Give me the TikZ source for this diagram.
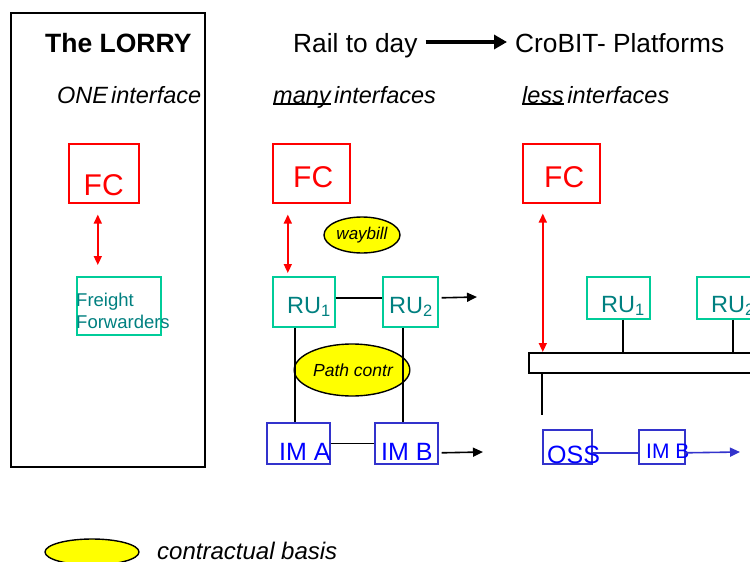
\documentclass[tikz,border=0pt]{standalone}
\usepackage{fontspec}
\setmainfont{Liberation Sans}
\usetikzlibrary{shapes.geometric,arrows.meta}
\definecolor{fcred}{RGB}{255,0,0}
\definecolor{ruline}{RGB}{0,204,153}
\definecolor{rutext}{RGB}{0,128,128}
\definecolor{imline}{RGB}{51,51,204}
\definecolor{imtext}{RGB}{0,0,255}
\definecolor{contr}{RGB}{255,255,0}
\tikzset{
  fcbox/.style={draw=fcred, line width=1.6pt, inner sep=0pt, anchor=north west},
  rubox/.style={draw=ruline, line width=1.6pt, inner sep=0pt, anchor=north west},
  imbox/.style={draw=imline, line width=1.6pt, inner sep=0pt, anchor=north west},
  blkbox/.style={draw=black, line width=1.7pt, inner sep=0pt, anchor=north west},
  lab/.style={anchor=base west, inner sep=0pt},
  fctext/.style={lab, text=fcred, font=\fontsize{30}{30}\selectfont},
  rutxt/.style={lab, text=rutext, font=\fontsize{23.5}{23.5}\selectfont},
  imtxt/.style={lab, text=imtext, font=\fontsize{25}{25}\selectfont},
  ital/.style={lab, font=\fontsize{23.5}{24}\itshape},
  contract/.style={ellipse, draw=black, fill=contr, line width=1.4pt, inner sep=0pt},
  redarr/.style={draw=fcred, line width=1.6pt, {Triangle[length=9pt,width=8pt]}-{Triangle[length=9pt,width=8pt]}},
  conn/.style={draw=black, line width=1.6pt},
  blkarr/.style={draw=black, line width=1.6pt, -{Triangle[length=10pt,width=9pt]}},
  bluearr/.style={draw=imline, line width=1.6pt, -{Triangle[length=10pt,width=9pt]}},
}
\begin{document}
\begin{tikzpicture}[x=1pt,y=-1pt]
\clip (0,0) rectangle (750,562);
\fill[white] (0,0) rectangle (750,562);

% left frame
\node[blkbox, minimum width=194pt, minimum height=454pt] (frame) at (10,12) {};
\node[lab, font=\fontsize{26.5}{26.5}\bfseries\selectfont] (lorry) at (45,52) {The LORRY};
\node[ital] (one) at (57,103) {ONE\hspace{3pt}interface};

% title
\node[lab, font=\fontsize{26.3}{26.3}\selectfont] (rail) at (293,52) {Rail to day};
\node[lab, font=\fontsize{26.3}{26.3}\selectfont] (crobit) at (515,52) {CroBIT- Platforms};
\draw[line width=3.8pt, -{Triangle[length=13pt,width=14pt]}] ([xshift=8pt,yshift=10pt]rail.base east) -- ([xshift=-8pt,yshift=10pt]crobit.base west);

\node[ital] (many) at (273,103) {many};
\node[ital] (manyi) at ([xshift=3pt]many.base east) {interfaces};
\draw[line width=1.8pt] ([yshift=-1pt]many.base west) -- ([yshift=-1pt]many.base east);
\node[ital] (less) at (522,103) {less};
\node[ital] (lessi) at ([xshift=3pt]less.base east) {interfaces};
\draw[line width=1.8pt] ([yshift=-1pt]less.base west) -- ([yshift=-1pt]less.base east);

% left column
\node[fcbox, minimum width=70pt, minimum height=59pt] (fc1) at (68,143) {};
\node[fctext] (fc1t) at (83.5,195) {FC};
\node[rubox, minimum width=84pt, minimum height=58pt] (ff) at (76,276) {};
\node[lab, text=rutext, font=\fontsize{18.5}{22}\selectfont] (fft1) at (76,306) {Freight};
\node[lab, text=rutext, font=\fontsize{18.5}{22}\selectfont] (fft2) at (76,328) {Forwarders};
\draw[redarr, shorten <=11pt, shorten >=11pt] ([xshift=-6pt]fc1.south) -- ([xshift=-6pt]fc1.south |- ff.north);

% middle column
\node[fcbox, minimum width=77pt, minimum height=59pt] (fc2) at (272,143) {};
\node[fctext] (fc2t) at (293,187) {FC};
\node[contract, minimum width=76pt, minimum height=36pt, font=\fontsize{17}{17}\itshape] (waybill) at (362,235) {waybill};
\node[rubox, minimum width=62pt, minimum height=50pt] (ru1) at (272,276) {};
\node[rutxt] (ru1t) at (287,313) {RU\textsubscript{1}};
\node[rubox, minimum width=55pt, minimum height=50pt] (ru2) at (382,276) {};
\node[rutxt] (ru2t) at (389,313) {RU\textsubscript{2}};
\draw[redarr, shorten <=11pt, shorten >=3pt] ([xshift=-23.5pt]fc2.south) -- ([xshift=-23.5pt]fc2.south |- ru1.north);
\draw[conn] ([yshift=4pt]ru1.east) -- ([yshift=4pt]ru1.east -| ru2.west);
\coordinate (ru2out) at (477,297);
\draw[blkarr] ([yshift=4pt,xshift=3pt]ru2.east) -- (ru2out);

\node[contract, minimum width=84pt, minimum height=52pt, font=\fontsize{17.5}{17.5}\itshape] (path) at (352,370) {\hspace{2pt}Path contr};
\node[imbox, minimum width=63pt, minimum height=41pt] (ima) at (266,422) {};
\node[imtxt] (imat) at (279,460) {IM A};
\node[imbox, minimum width=63pt, minimum height=41pt] (imb) at (374,422) {};
\node[imtxt] (imbt) at (381,460) {IM B};
\draw[conn] ([xshift=-9pt]ru1.south) -- ([xshift=-9pt]ru1.south |- ima.north);
\draw[conn] ([xshift=-7.5pt]ru2.south) -- ([xshift=-7.5pt]ru2.south |- imb.north);
\draw[conn] (ima.east) -- (imb.west);
\coordinate (imbout) at (483,452);
\draw[blkarr] ([yshift=-9.5pt,xshift=3pt]imb.east) -- (imbout);

% right column
\node[fcbox, minimum width=77pt, minimum height=59pt] (fc3) at (522,143) {};
\node[fctext] (fc3t) at (544,187) {FC};
\node[rubox, minimum width=63pt, minimum height=42pt] (ru3) at (586,276) {};
\node[rutxt] (ru3t) at (601,312) {RU\textsubscript{1}};
\node[rubox, minimum width=63pt, minimum height=42pt] (ru4) at (696,276) {};
\node[rutxt] (ru4t) at (711,312) {RU\textsubscript{2}};
\node[blkbox, minimum width=240pt, minimum height=20pt] (bus) at (528,352) {};
\draw[redarr, shorten <=10pt] ([xshift=-18.5pt]fc3.south) -- ([xshift=-18.5pt]fc3.south |- bus.north);
\draw[conn] ([xshift=4.5pt]ru3.south) -- ([xshift=4.5pt]ru3.south |- bus.north);
\draw[conn] ([xshift=4.5pt]ru4.south) -- ([xshift=4.5pt]ru4.south |- bus.north);
\coordinate (busdrop) at (542,415);
\draw[conn] ([xshift=14pt]bus.south west) -- (busdrop);

\node[imbox, minimum width=49pt, minimum height=34pt] (oss) at (542,429) {};
\node[imtxt] (osst) at (547,463) {OSS};
\node[imbox, minimum width=46pt, minimum height=34pt] (imb2) at (638,429) {};
\node[lab, text=imtext, font=\fontsize{21}{21}\selectfont] (imb2t) at (646,458) {IM B};
\draw[draw=imline, line width=1.6pt] ([yshift=-6pt]oss.east) -- ([yshift=-6pt]oss.east -| imb2.west);
\coordinate (imb2out) at (740,452);
\draw[bluearr] ([yshift=-6pt]imb2.east) -- (imb2out);

% legend
\node[contract, minimum width=94pt, minimum height=26pt] (legend) at (92,552) {};
\node[lab, font=\fontsize{24}{24}\itshape] (legt) at (157,559) {contractual basis};
\end{tikzpicture}
\end{document}
